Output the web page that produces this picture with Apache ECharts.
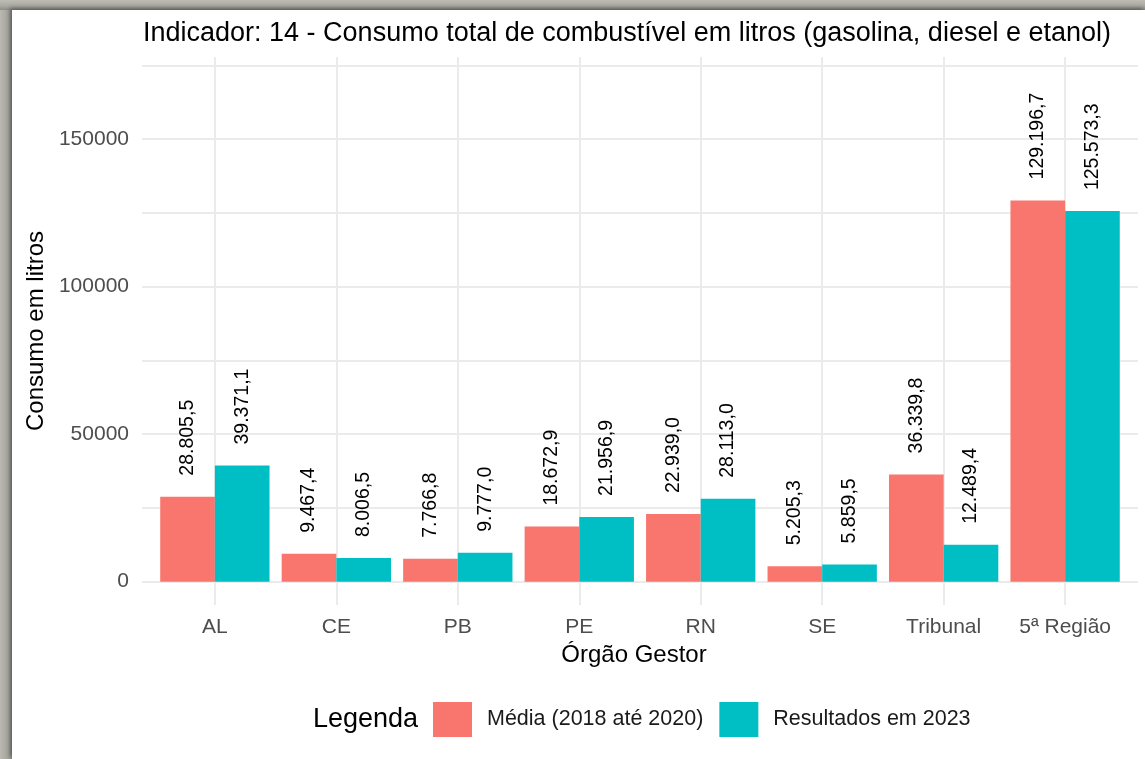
<!DOCTYPE html>
<html>
<head>
<meta charset="utf-8">
<script src="https://cdn.jsdelivr.net/npm/echarts@6/dist/echarts.min.js"></script>
<style>
  html, body { margin: 0; padding: 0; width: 1145px; height: 759px; overflow: hidden;
    background: linear-gradient(90deg, #b9b9b2 0px, #a5a59e 8px, #8f8f89 12px); }
  #frame { position: absolute; left: 0; top: 0; width: 1145px; height: 10px;
    background: linear-gradient(180deg, #bdbdb6 0px, #a9a9a2 6px, #8c8c86 10px); }
  #chart { position: absolute; left: 12px; top: 10px; width: 1133px; height: 749px; background: #ffffff;
    box-shadow: -2px -2px 4px rgba(0,0,0,0.35); }
</style>
</head>
<body>
<div id="frame"></div>
<div id="chart"></div>
<script>
const categories = ['AL', 'CE', 'PB', 'PE', 'RN', 'SE', 'Tribunal', '5ª Região'];
const mediaValues = [28805.5, 9467.4, 7766.8, 18672.9, 22939.0, 5205.3, 36339.8, 129196.7];
const resultadosValues = [39371.1, 8006.5, 9777.0, 21956.9, 28113.0, 5859.5, 12489.4, 125573.3];
const seriesNames = ['Média (2018 até 2020)', 'Resultados em 2023'];
const yTickLabels = [0, 50000, 100000, 150000];
const yGridValues = [0, 25000, 50000, 75000, 100000, 125000, 150000, 175000];

function fmtBR(v) {
  const s = v.toFixed(1);
  const parts = s.split('.');
  const intPart = parts[0].replace(/\B(?=(\d{3})+(?!\d))/g, '.');
  return intPart + ',' + parts[1];
}

const chart = echarts.init(document.getElementById('chart'), null, { renderer: 'canvas' });
const Y_MIN = -7900, Y_MAX = 177800;
const gridColor = '#ebebeb';
const labelStyle = {
  show: true, position: 'top', rotate: 90, align: 'left', verticalAlign: 'middle',
  distance: 21, fontSize: 19.5, color: '#000000', fontFamily: 'Liberation Sans, Arial, sans-serif',
  formatter: p => fmtBR(p.value)
};

chart.setOption({
  animation: false,
  textStyle: { fontFamily: 'Liberation Sans, Arial, sans-serif' },
  title: [
    { text: 'Indicador: 14 - Consumo total de combustível em litros (gasolina, diesel e etanol)',
      left: 131, top: 10, padding: 0,
      textStyle: { fontSize: 27, fontWeight: 'normal', color: '#000000' } },
    { text: 'Legenda', left: 301, top: 696, padding: 0,
      textStyle: { fontSize: 27, fontWeight: 'normal', color: '#000000' } }
  ],
  legend: {
    left: 421, top: 692, padding: 0,
    itemWidth: 39, itemHeight: 35, itemGap: 16,
    icon: 'rect',
    data: seriesNames,
    textStyle: { fontSize: 21.5, color: '#1a1a1a', padding: [0, 0, 0, 10] }
  },
  grid: [
    { left: 130, right: 7, top: 47, bottom: 154, outerBoundsMode: 'none' },
    { left: 142.15, right: 19.15, top: 47, bottom: 154, outerBoundsMode: 'none' }
  ],
  xAxis: [
    { type: 'category', gridIndex: 0, data: categories, show: false },
    { type: 'category', gridIndex: 1, data: categories,
      axisLine: { show: false }, axisTick: { show: false },
      axisLabel: { fontSize: 21, color: '#4d4d4d', margin: 12, interval: 0 },
      splitLine: { show: true, alignWithLabel: true, lineStyle: { color: gridColor, width: 2 } },
      name: 'Órgão Gestor', nameLocation: 'middle', nameGap: 31,
      nameTextStyle: { fontSize: 24, color: '#000000', padding: [0, 12, 0, 0] } }
  ],
  yAxis: [
    { type: 'value', gridIndex: 0, min: Y_MIN, max: Y_MAX,
      axisLine: { show: false },
      axisTick: { show: false, customValues: yGridValues },
      axisLabel: { fontSize: 21, color: '#4d4d4d', margin: 13, customValues: yTickLabels,
        formatter: v => String(v) },
      splitLine: { show: true, lineStyle: { color: gridColor, width: 2 } },
      name: 'Consumo em litros', nameLocation: 'middle', nameGap: 88, nameRotate: 90,
      nameTextStyle: { fontSize: 24, color: '#000000' } },
    { type: 'value', gridIndex: 1, min: Y_MIN, max: Y_MAX, show: false,
      splitLine: { show: false } }
  ],
  series: [
    { name: seriesNames[0], type: 'bar', xAxisIndex: 1, yAxisIndex: 1, data: mediaValues,
      itemStyle: { color: '#F8766D' }, barCategoryGap: '10%', barGap: '0%', label: labelStyle },
    { name: seriesNames[1], type: 'bar', xAxisIndex: 1, yAxisIndex: 1, data: resultadosValues,
      itemStyle: { color: '#00BFC4' }, barCategoryGap: '10%', barGap: '0%', label: labelStyle }
  ]
});
</script>
</body>
</html>
